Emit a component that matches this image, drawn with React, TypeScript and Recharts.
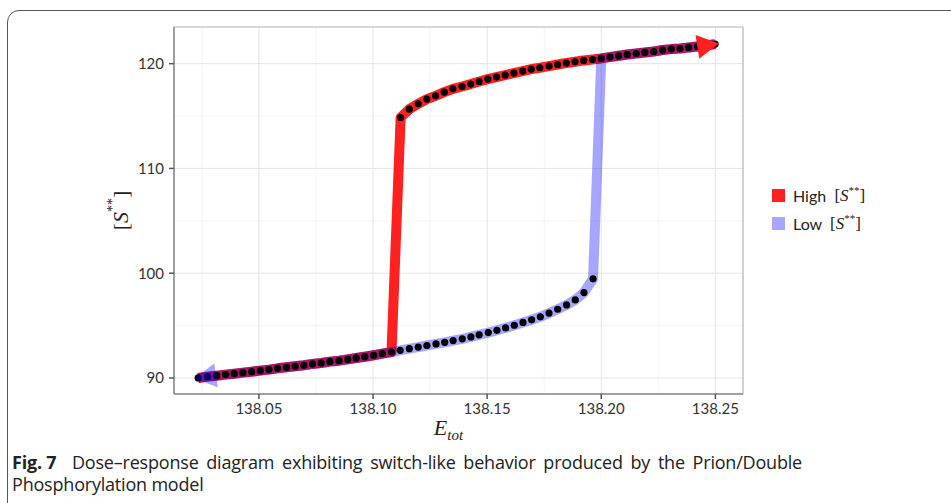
import React from "react";
import { ComposedChart, Line, Scatter, XAxis, YAxis, CartesianGrid, ReferenceArea, Legend } from "recharts";

// lower (low [S**]) branch
const lowerX = [
  138.0234, 138.0275, 138.0315, 138.0354, 138.0392, 138.043, 138.0468, 138.0506, 138.0544, 138.0582,
  138.0621, 138.0659, 138.0697, 138.0735, 138.0773, 138.0811, 138.0851, 138.0889, 138.0926, 138.0964,
  138.1003, 138.1041, 138.1081, 138.1119, 138.1159, 138.1198, 138.1236, 138.1276, 138.1314, 138.1351,
  138.1391, 138.1429, 138.1465, 138.1505, 138.1543, 138.1581, 138.1619, 138.1657, 138.1695, 138.1733,
  138.1771, 138.1809, 138.1848, 138.1886, 138.1924, 138.1964,
];
const lowerY = [
  90.0, 90.13, 90.22, 90.32, 90.41, 90.51, 90.6, 90.7, 90.8, 90.92,
  91.02, 91.12, 91.21, 91.34, 91.43, 91.56, 91.65, 91.78, 91.91, 92.03,
  92.17, 92.32, 92.48, 92.64, 92.8, 92.95, 93.1, 93.25, 93.4, 93.57,
  93.74, 93.92, 94.12, 94.33, 94.55, 94.78, 95.03, 95.3, 95.55, 95.84,
  96.19, 96.56, 96.97, 97.45, 98.15, 99.46,
];

// upper (high [S**]) branch
const upperX = [
  138.1121, 138.1159, 138.1198, 138.1236, 138.1274, 138.1312, 138.135, 138.139, 138.1428, 138.1465,
  138.1503, 138.1541, 138.1579, 138.1617, 138.1656, 138.1693, 138.1731, 138.1771, 138.1809, 138.1847,
  138.1885, 138.1923, 138.1962, 138.2, 138.2038, 138.2076, 138.2114, 138.2153, 138.2191, 138.223,
  138.2269, 138.2307, 138.2345, 138.2383, 138.2422, 138.246, 138.2499,
];
const upperY = [
  114.86, 115.66, 116.17, 116.62, 116.93, 117.28, 117.6, 117.82, 118.05, 118.3,
  118.53, 118.72, 118.91, 119.1, 119.29, 119.48, 119.61, 119.77, 119.92, 120.06,
  120.18, 120.31, 120.4, 120.5, 120.63, 120.75, 120.88, 120.97, 121.07, 121.16,
  121.3, 121.39, 121.45, 121.55, 121.64, 121.74, 121.87,
];

const highJumpIndex = 23; // lower points walked before jumping up
const lowJumpIndex = 23; // upper point where the low path drops

const xTicks = [138.05, 138.1, 138.15, 138.2, 138.25];
const yTicks = [90, 100, 110, 120];
const xMinor = [138.025, 138.075, 138.125, 138.175, 138.225];
const yMinor = [95, 105, 115];
const xDomain = [138.0128, 138.2621];
const yDomain = [88.47, 123.5];

const seriesNames = ["High", "Low"];
const seriesColors = ["#ff2020", "#0000ff"];
const seriesOpacity = [1, 0.35];

const lower = lowerX.map((x, i) => ({ x, y: lowerY[i] }));
const upper = upperX.map((x, i) => ({ x, y: upperY[i] }));
const highPath = [...lower.slice(0, highJumpIndex), ...upper];
const lowPath = [...upper.slice(lowJumpIndex).reverse(), ...lower.slice().reverse()];
const dots = [...lower, ...upper];

const tickStyle = { fontFamily: "Lato", fontSize: 15, fill: "#333" };

function makeArrow(color: string, opacity: number, lastIndex: number) {
  let prev = { x: 0, y: 0 };
  return (props: any) => {
    const { cx, cy, index } = props;
    if (index !== lastIndex) {
      prev = { x: cx, y: cy };
      return <g key={`d${index}`} />;
    }
    const a = Math.atan2(cy - prev.y, cx - prev.x);
    const tx = cx + Math.cos(a) * 4;
    const ty = cy + Math.sin(a) * 4;
    const bx = tx - Math.cos(a) * 22;
    const by = ty - Math.sin(a) * 22;
    const nx = -Math.sin(a) * 12;
    const ny = Math.cos(a) * 12;
    return (
      <polygon
        key={`d${index}`}
        points={`${tx},${ty} ${bx + nx},${by + ny} ${bx - nx},${by - ny}`}
        fill={color}
        fillOpacity={opacity}
      />
    );
  };
}

const YLabel = (props: any) => {
  const { viewBox } = props;
  const cx = viewBox.x + 20;
  const cy = viewBox.y + viewBox.height / 2;
  return (
    <text
      x={cx}
      y={cy}
      transform={`rotate(-90 ${cx} ${cy})`}
      textAnchor="middle"
      dominantBaseline="central"
      fontFamily="Liberation Serif"
      fontSize={22}
      fill="#222"
    >
      [<tspan fontStyle="italic">S</tspan>
      <tspan fontSize={14} dy={-8}>**</tspan>
      <tspan dy={8}>]</tspan>
    </text>
  );
};

const XLabel = (props: any) => {
  const { viewBox } = props;
  const cx = viewBox.x + viewBox.width / 2 - 10;
  return (
    <text x={cx} y={435} textAnchor="middle" fontFamily="Liberation Serif" fontStyle="italic" fill="#222">
      <tspan fontSize={22}>E</tspan>
      <tspan fontSize={15} dy={5}>tot</tspan>
    </text>
  );
};

const renderLegend = () => (
  <div style={{ fontFamily: "Lato", fontSize: 16, color: "#222" }}>
    {seriesNames.map((n, i) => (
      <div key={n} style={{ display: "flex", alignItems: "center", height: 28 }}>
        <span
          style={{
            width: 13,
            height: 13,
            background: seriesColors[i],
            opacity: seriesOpacity[i],
            marginRight: 8,
            display: "inline-block",
          }}
        />
        <span>{n}&nbsp;&nbsp;</span>
        <span style={{ fontFamily: "Liberation Serif", fontSize: 17 }}>
          [<i>S</i>
          <sup style={{ fontSize: 11 }}>**</sup>]
        </span>
      </div>
    ))}
  </div>
);

export default function App() {
  return (
    <div style={{ position: "absolute", left: 0, top: 0, width: 951, height: 503, overflow: "hidden", background: "#fff" }}>
      <div
        style={{
          position: "absolute",
          left: 7,
          top: 10,
          width: 1000,
          height: 560,
          border: "1.3px solid #555",
          borderTopLeftRadius: 12,
        }}
      />
      <div style={{ position: "absolute", left: 0, top: 0 }}>
        <ComposedChart width={951} height={445} margin={{ top: 27, right: 208, bottom: 21, left: 100 }}>
          <CartesianGrid
            stroke="#f1f1f1"
            strokeWidth={0.8}
            horizontalValues={yMinor}
            verticalValues={xMinor}
          />
          <CartesianGrid stroke="#e4e4e4" strokeWidth={1} horizontalValues={yTicks} verticalValues={xTicks} />
          <ReferenceArea
            x1={xDomain[0]}
            x2={xDomain[1]}
            y1={yDomain[0]}
            y2={yDomain[1]}
            fill="none"
            stroke="#b3b3b3"
            strokeWidth={1.2}
          />
          <XAxis
            dataKey="x"
            type="number"
            domain={xDomain}
            allowDataOverflow
            ticks={xTicks}
            tickFormatter={(v) => v.toFixed(2)}
            tick={tickStyle}
            tickSize={5}
            tickMargin={4}
            height={30}
            stroke="#8c8c8c"
            strokeWidth={1.5}
            tickLine={{ stroke: "#555" }}
            label={<XLabel />}
          />
          <YAxis
            dataKey="y"
            type="number"
            domain={yDomain}
            allowDataOverflow
            ticks={yTicks}
            tick={tickStyle}
            tickSize={5}
            tickMargin={5}
            width={74}
            stroke="#8c8c8c"
            strokeWidth={1.5}
            tickLine={{ stroke: "#555" }}
            label={<YLabel />}
          />
          <Line
            name={seriesNames[0]}
            data={highPath}
            dataKey="y"
            type="linear"
            stroke={seriesColors[0]}
            strokeWidth={10}
            strokeLinejoin="round"
            dot={makeArrow(seriesColors[0], seriesOpacity[0], highPath.length - 1)}
            activeDot={false}
            isAnimationActive={false}
          />
          <Line
            name={seriesNames[1]}
            data={lowPath}
            dataKey="y"
            type="linear"
            stroke={seriesColors[1]}
            strokeOpacity={seriesOpacity[1]}
            strokeWidth={10}
            strokeLinejoin="round"
            dot={makeArrow(seriesColors[1], seriesOpacity[1], lowPath.length - 1)}
            activeDot={false}
            isAnimationActive={false}
          />
          <Scatter
            data={dots}
            dataKey="y"
            legendType="none"
            isAnimationActive={false}
            shape={(p: any) => <circle cx={p.cx} cy={p.cy} r={3.6} fill="#000" />}
          />
          <Legend
            layout="vertical"
            align="center"
            verticalAlign="middle"
            content={renderLegend}
            wrapperStyle={{ left: 772, top: 181, width: 170 }}
          />
        </ComposedChart>
      </div>
      <div
        style={{
          position: "absolute",
          left: 12,
          top: 451,
          width: 790,
          fontFamily: "'Open Sans'",
          fontSize: 18,
          lineHeight: "22.3px",
          letterSpacing: -0.2,
          color: "#222",
        }}
      >
        <div style={{ textAlign: "justify", textAlignLast: "justify" }}>
          <span style={{ display: "inline-block", fontWeight: 700 }}>Fig.&nbsp;7</span>&nbsp; Dose–response diagram
          exhibiting switch-like behavior produced by the Prion/Double
        </div>
        <div>Phosphorylation model</div>
      </div>
    </div>
  );
}
